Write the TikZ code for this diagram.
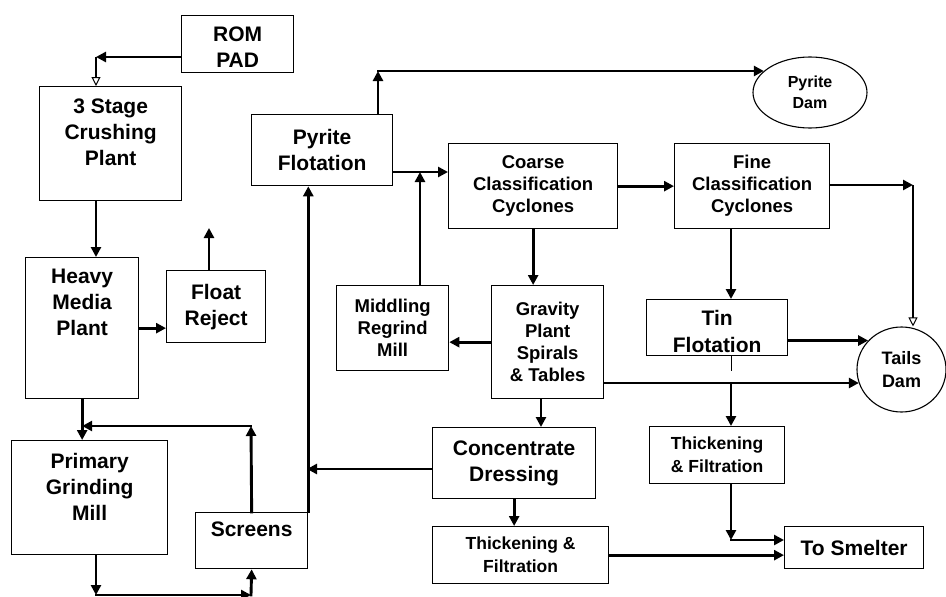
\documentclass[tikz,border=0pt]{standalone}
\usepackage{fontspec}
\setmainfont{Liberation Sans}
\usetikzlibrary{arrows.meta,shapes.geometric}

\newcommand\bigtxt{\fontsize{21}{26}\selectfont}
\newcommand\midtxt{\fontsize{18.5}{22}\selectfont}
\newcommand\smtxt{\fontsize{17.5}{23}\selectfont}
\newcommand\tintxt{\fontsize{21}{27}\selectfont}
\newcommand\damtxt{\fontsize{16}{21}\selectfont}
\newcommand\tailtxt{\fontsize{18}{23}\selectfont}

\tikzset{
  unit/.style={draw, line width=1.3pt, inner sep=0pt, align=center, anchor=north west, font=\bfseries\bigtxt},
  dam/.style={draw, ellipse, line width=1.1pt, inner sep=0pt, align=center},
  toplab/.style={anchor=north, align=center, inner sep=0pt, font=\bfseries\bigtxt},
  flow/.style={line width=2.9pt, line cap=rect, -{Triangle[length=10pt,width=10pt]}},
  feed/.style={line width=1.5pt, -{Triangle[open,length=9pt,width=9pt,line width=1pt]}},
  tailfeed/.style={line width=2.9pt, -{Triangle[open,length=9pt,width=9pt,line width=1pt]}},
  bleed/.style={line width=1pt},
}

\begin{document}
\begin{tikzpicture}[x=1pt, y=-1pt]
            \useasboundingbox (0,0) rectangle (946,597);

            \node[unit, minimum width=112pt, minimum height=57pt, label={[toplab, yshift=-12pt]north:{ROM\\PAD}}] (rom) at (181,15) {};
            \node[unit, minimum width=142pt, minimum height=114pt, label={[toplab, yshift=-13pt]north:{3 Stage\\Crushing\\Plant}}] (crush) at (39,86) {};
            \node[unit, minimum width=113pt, minimum height=141pt, label={[toplab, yshift=-12pt]north:{Heavy\\Media\\Plant}}] (heavy) at (25,257) {};
            \node[unit, minimum width=99pt, minimum height=72pt] (float) at (166,270) {Float\\Reject};
            \node[unit, minimum width=156pt, minimum height=114pt, label={[toplab, yshift=-13pt]north:{Primary\\Grinding\\Mill}}] (primary) at (11,440) {};
            \node[unit, minimum width=112pt, minimum height=56pt, label={[toplab, yshift=-10pt]north:{Screens}}] (screens) at (195,512) {};
            \node[unit, minimum width=141pt, minimum height=71pt] (pyr) at (251,114) {Pyrite\\Flotation};
            \node[unit, minimum width=169pt, minimum height=85pt, font=\bfseries\midtxt] (coarse) at (448,143) {Coarse\\Classification\\Cyclones};
            \node[unit, minimum width=155pt, minimum height=85pt, font=\bfseries\midtxt] (fine) at (674,143) {Fine\\Classification\\Cyclones};
            \node[unit, minimum width=112pt, minimum height=85pt, font=\bfseries\midtxt] (mid) at (336,285) {Middling\\Regrind\\Mill};
            \node[unit, minimum width=112pt, minimum height=113pt, font=\bfseries\midtxt] (grav) at (491,285) {Gravity\\Plant\\Spirals\\\& Tables};
            \node[unit, minimum width=141pt, minimum height=56pt, label={[toplab, font=\bfseries\tintxt, yshift=-11pt]north:{Tin\\Flotation}}] (tin) at (646,299) {};
            \node[unit, minimum width=163pt, minimum height=71pt] (conc) at (432,427) {Concentrate\\Dressing};
            \node[unit, minimum width=135pt, minimum height=57pt, font=\bfseries\smtxt] (thickr) at (649,426) {Thickening\\\& Filtration};
            \node[unit, minimum width=176pt, minimum height=57pt, font=\bfseries\smtxt] (thickl) at (432,526) {Thickening \&\\Filtration};
            \node[unit, minimum width=139pt, minimum height=42pt] (smelter) at (784,526) {To Smelter};
            \node[dam, minimum width=114pt, minimum height=71pt, font=\bfseries\damtxt] (pdam) at (810,92.5) {Pyrite\\Dam};
            \node[dam, minimum width=89pt, minimum height=85pt, font=\bfseries\tailtxt] (tails) at (901.5,369.5) {Tails\\Dam};

            \coordinate (romc) at (96,57);
            \coordinate (fup) at (209,228);
            \coordinate (scrc) at (251,426);
            \coordinate (pmb) at (96,595);
            \coordinate (scb) at (251,595);
            \coordinate (scw) at (307,469);
            \coordinate (ptop) at (378,71);
            \coordinate (pj) at (420,172);
            \coordinate (fc) at (913,185);
            \coordinate (tj) at (731,371);
            \coordinate (gj) at (731,383);
            \coordinate (sj) at (731,540);
            \coordinate (gc) at (541,398);

            \draw[flow] (rom.west |- romc) -- (romc); %
            \draw[feed] (romc) -- (romc |- crush.north); %
            \draw[flow] (crush.south -| romc) -- (heavy.north -| romc); %
            \draw[flow] (heavy.east) -- (heavy.east -| float.west); %
            \draw[flow] (float.north -| fup) -- (fup); %
            \draw[flow] (heavy.south) -- (heavy.south |- primary.north); %
            \draw[flow] (screens.north) -- (scrc); %
            \draw[flow] (scrc) -- (scrc -| heavy.south); %
            \draw[flow] (primary.south -| pmb) -- (pmb); %
            \draw[flow] (pmb) -- (scb); %
            \draw[flow] (scb) -- (screens.south); %
            \draw[flow] (screens.north east) -- (screens.north east |- pyr.south); %
            \draw[flow] (conc.west |- scw) -- (scw); %

            \draw[flow] (pyr.north -| ptop) -- (ptop); %
            \draw[flow] (ptop) -- (ptop -| pdam.155); %
            \draw[flow] (pyr.east |- pj) -- (coarse.west |- pj); %
            \draw[flow] (mid.north -| pj) -- (pj); %
            \draw[flow] (coarse.east) -- (fine.west); %
            \draw[flow] (fine.east |- fc) -- (fc); %
            \draw[tailfeed] (fc) -- (fc |- tails.north); %
            \draw[flow] (coarse.south) -- (coarse.south |- grav.north); %
            \draw[flow] (grav.west) -- (grav.west -| mid.east); %
            \draw[flow] (fine.south -| tj) -- (tin.north -| tj); %
            \draw[flow] (tin.east |- tails.139) -- (tails.139); %
            \draw[bleed] (tin.south -| tj) -- (tj); %
            \draw[flow] (grav.east |- gj) -- (gj -| tails.198); %
            \draw[flow] (gj) -- (thickr.north -| gj); %
            \draw[flow] (thickr.south -| sj) -- (sj); %
            \draw[flow] (sj) -- (sj -| smelter.west); %
            \draw[flow] (grav.south -| gc) -- (conc.north -| gc); %
            \draw[flow] (conc.south) -- (conc.south |- thickl.north); %
            \draw[flow] (thickl.east) -- (thickl.east -| smelter.west); %

\end{tikzpicture}
\end{document}
